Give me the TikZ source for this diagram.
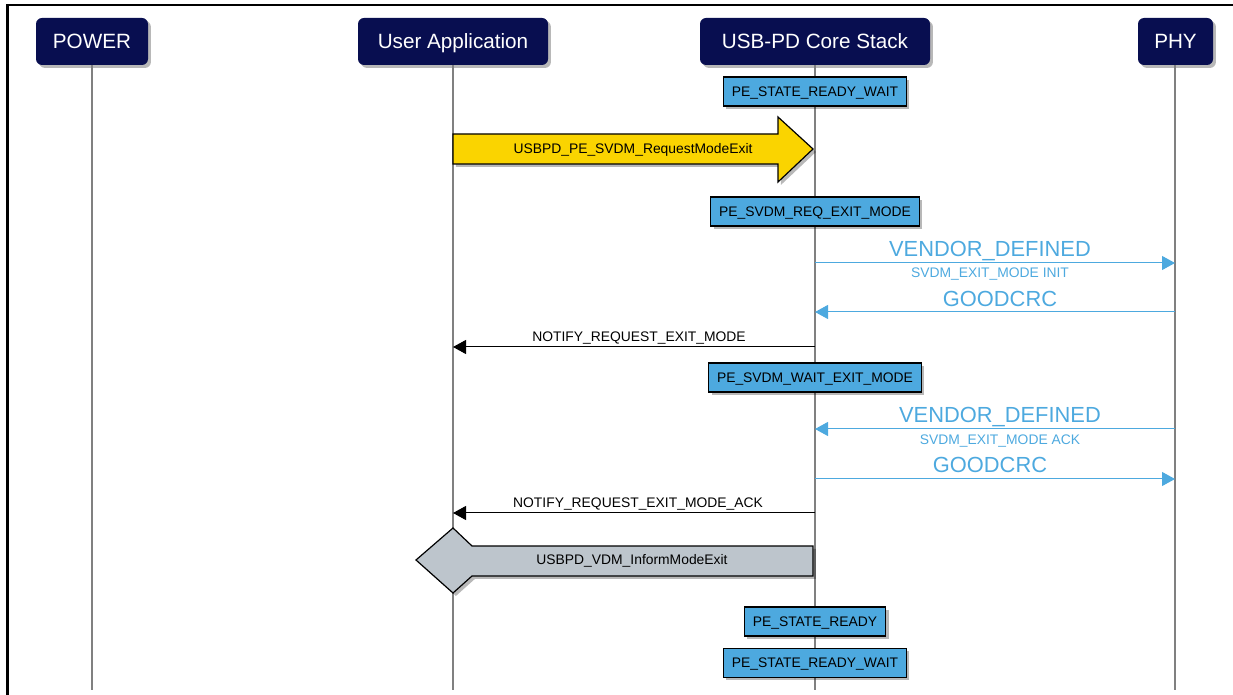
\documentclass[tikz,border=0pt]{standalone}
\usepackage{fontspec}
\setmainfont{Liberation Sans}
\usetikzlibrary{shadows,arrows.meta}
\definecolor{navy}{RGB}{8,14,80}
\definecolor{stblue}{RGB}{77,169,223}
\definecolor{msgblue}{RGB}{77,169,223}
\definecolor{ylw}{RGB}{250,212,0}
\definecolor{gry}{RGB}{189,197,204}
\definecolor{lifegray}{RGB}{128,128,128}
\begin{document}
\begin{tikzpicture}[x=0.75pt,y=-0.75pt,
  shd/.style={drop shadow={shadow xshift=2.2pt,shadow yshift=-2.2pt,fill=black,opacity=0.28}},
  hdr/.style={fill=navy, rounded corners=4.5pt, text=white, font=\fontsize{15.5}{18}\selectfont,
              minimum height=35.25pt, inner sep=0pt, text height=11.1pt, text depth=0pt, shd},
  life/.style={draw=lifegray, line width=1.3pt},
  state/.style={fill=stblue, draw=black, line width=1pt, font=\fontsize{10.4}{12}\selectfont,
                minimum height=21.75pt, inner ysep=0pt, inner xsep=6.3pt,
                text height=7.45pt, text depth=0pt, shd},
  small/.style={font=\fontsize{10.4}{12}\selectfont, anchor=base, inner sep=0pt},
  biglbl/.style={font=\fontsize{16.4}{19}\selectfont, text=msgblue, anchor=base, inner sep=0pt},
  sublbl/.style={small, text=msgblue},
  bmsg/.style={draw=msgblue, line width=0.75pt, -{Triangle[length=9.75pt,width=10.5pt]}},
  kmsg/.style={draw=black, line width=0.75pt, -{Triangle[length=9.75pt,width=10.5pt]}},
  bigarrow/.style={draw=black, line width=0.9pt, shd}
]
\useasboundingbox (0,0) rectangle (1233,695);
% frame
\draw[line width=2pt] (7.7,695) -- (7.7,5) -- (1233,5);

% headers
\node[hdr, minimum width=84pt]    (power) at (92,41.5)     {POWER};
\node[hdr, minimum width=142.5pt] (app)   at (453,41.5)    {User Application};
\node[hdr, minimum width=172.5pt] (core)  at (815,41.5)    {USB-PD Core Stack};
\node[hdr, minimum width=56.25pt] (phy)   at (1175.5,41.5) {PHY};

% lifelines
\coordinate (powerE) at (92,690);
\coordinate (appE)   at (453,690);
\coordinate (coreE)  at (815,690);
\coordinate (phyE)   at (1175,690);
\draw[life] (power.south) -- (powerE);
\draw[life] (app.south)   -- (appE);
\draw[life] (core.south)  -- (coreE);
\draw[life] (phy.south-|phyE) -- (phyE);

% states
\node[state] (s1) at (815,91.5)  {PE\_STATE\_READY\_WAIT};
\node[state] (s2) at (815,211.5) {PE\_SVDM\_REQ\_EXIT\_MODE};
\node[state] (s3) at (815,377.5) {PE\_SVDM\_WAIT\_EXIT\_MODE};
\node[state] (s4) at (815,621.5) {PE\_STATE\_READY};
\node[state] (s5) at (815,663)   {PE\_STATE\_READY\_WAIT};

% yellow API arrow
\path[bigarrow, fill=ylw] (453,134) -- (778,134) -- (778,117) -- (813,149) -- (778,182) -- (778,164) -- (453,164) -- cycle;
\node[small] (ya) at (633,154) {USBPD\_PE\_SVDM\_RequestModeExit};

% message 1: VENDOR_DEFINED init
\coordinate (m1a) at (815,263); \coordinate (m1b) at (1175,263);
\draw[bmsg] (m1a) -- (m1b);
\node[biglbl] (m1l) at (990,257) {VENDOR\_DEFINED};
\node[sublbl] (m1s) at (990,278) {SVDM\_EXIT\_MODE INIT};

% message 2: GOODCRC
\coordinate (m2a) at (1175,312); \coordinate (m2b) at (815,312);
\draw[bmsg] (m2a) -- (m2b);
\node[biglbl] (m2l) at (1000,307) {GOODCRC};

% message 3: notify
\coordinate (m3a) at (815,347); \coordinate (m3b) at (453,347);
\draw[kmsg] (m3a) -- (m3b);
\node[small] (m3l) at (639,342) {NOTIFY\_REQUEST\_EXIT\_MODE};

% message 4: VENDOR_DEFINED ack
\coordinate (m4a) at (1175,429); \coordinate (m4b) at (815,429);
\draw[bmsg] (m4a) -- (m4b);
\node[biglbl] (m4l) at (1000,423) {VENDOR\_DEFINED};
\node[sublbl] (m4s) at (1000,445) {SVDM\_EXIT\_MODE ACK};

% message 5: GOODCRC
\coordinate (m5a) at (815,479); \coordinate (m5b) at (1175,479);
\draw[bmsg] (m5a) -- (m5b);
\node[biglbl] (m5l) at (990,473) {GOODCRC};

% message 6: notify ack
\coordinate (m6a) at (815,513); \coordinate (m6b) at (453,513);
\draw[kmsg] (m6a) -- (m6b);
\node[small] (m6l) at (638,508) {NOTIFY\_REQUEST\_EXIT\_MODE\_ACK};

% grey callback arrow
\path[bigarrow, fill=gry] (416,560) -- (453,528) -- (472,546) -- (813,546) -- (813,576) -- (472,576) -- (453,593) -- cycle;
\node[small] (ga) at (632,565) {USBPD\_VDM\_InformModeExit};
\end{tikzpicture}
\end{document}
